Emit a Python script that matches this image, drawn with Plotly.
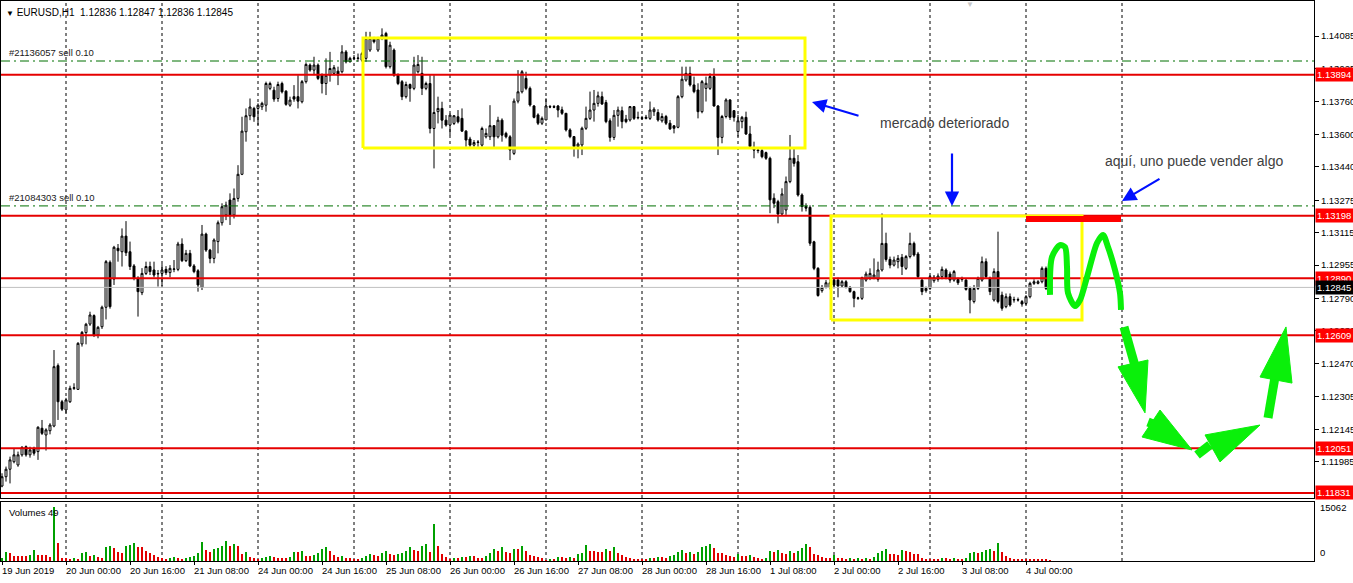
import plotly.graph_objects as go

# ---------------- data (EURUSD H1) ----------------
header_text = "EURUSD,H1\u00a0\u00a01.12836 1.12847 1.12836 1.12845"

opens = [
    1.11865, 1.11911, 1.11948, 1.11985, 1.11969, 1.12019, 1.12059, 1.12019, 1.12051, 1.12035,
    1.12150, 1.12117, 1.12138, 1.12161, 1.12459, 1.12281, 1.12240, 1.12281, 1.12347, 1.12342,
    1.12566, 1.12622, 1.12664, 1.12706, 1.12610, 1.12651, 1.12747, 1.12969, 1.12886, 1.13038,
    1.13021, 1.13098, 1.13021, 1.12951, 1.12890, 1.12819, 1.12914, 1.12948, 1.12931, 1.12914,
    1.12914, 1.12934, 1.12918, 1.12934, 1.12934, 1.13059, 1.12977, 1.13013, 1.12951, 1.12927,
    1.12845, 1.13108, 1.13029, 1.12988, 1.13071, 1.13164, 1.13202, 1.13276, 1.13202, 1.13284,
    1.13403, 1.13613, 1.13692, 1.13728, 1.13728, 1.13736, 1.13744, 1.13827, 1.13818, 1.13777,
    1.13851, 1.13813, 1.13744, 1.13786, 1.13786, 1.13761, 1.13860, 1.13942, 1.13917, 1.13942,
    1.13892, 1.13851, 1.13892, 1.13901, 1.13912, 1.13909, 1.14007, 1.13958, 1.13975, 1.13977,
    1.13966, 1.13975, 1.14016, 1.14073, 1.14016, 1.14073, 1.14098, 1.13934, 1.14016, 1.13892,
    1.13860, 1.13786, 1.13846, 1.13827, 1.13909, 1.13901, 1.13827, 1.13851, 1.13629, 1.13712,
    1.13728, 1.13670, 1.13646, 1.13654, 1.13687, 1.13679, 1.13616, 1.13577, 1.13547, 1.13560,
    1.13547, 1.13588, 1.13588, 1.13643, 1.13588, 1.13670, 1.13605, 1.13588, 1.13506, 1.13764,
    1.13810, 1.13876, 1.13827, 1.13740, 1.13696, 1.13655, 1.13671, 1.13737, 1.13737, 1.13740,
    1.13721, 1.13704, 1.13622, 1.13589, 1.13540, 1.13548, 1.13630, 1.13679, 1.13720, 1.13753,
    1.13786, 1.13757, 1.13667, 1.13585, 1.13694, 1.13717, 1.13675, 1.13671, 1.13737, 1.13684,
    1.13682, 1.13679, 1.13679, 1.13712, 1.13708, 1.13667, 1.13688, 1.13655, 1.13642, 1.13635,
    1.13786, 1.13868, 1.13901, 1.13844, 1.13819, 1.13712, 1.13827, 1.13827, 1.13885, 1.13740,
    1.13585, 1.13688, 1.13770, 1.13717, 1.13614, 1.13663, 1.13684, 1.13602, 1.13527, 1.13523,
    1.13520, 1.13510, 1.13482, 1.13285, 1.13268, 1.13207, 1.13227, 1.13367, 1.13482, 1.13465,
    1.13301, 1.13244, 1.13240, 1.13070, 1.12939, 1.12829, 1.12845, 1.12845, 1.12881, 1.12881,
    1.12852, 1.12873, 1.12845, 1.12824, 1.12791, 1.12791, 1.12881, 1.12890, 1.12890, 1.12885,
    1.12931, 1.13062, 1.12983, 1.12955, 1.12972, 1.12993, 1.12939, 1.12997, 1.13062, 1.13010,
    1.12881, 1.12829, 1.12840, 1.12878, 1.12885, 1.12898, 1.12931, 1.12911, 1.12881, 1.12885,
    1.12885, 1.12881, 1.12840, 1.12775, 1.12840, 1.12881, 1.12972, 1.12890, 1.12783, 1.12923,
    1.12807, 1.12750, 1.12799, 1.12783, 1.12785, 1.12775, 1.12766, 1.12799, 1.12865, 1.12865,
    1.12873, 1.12939, 1.12836,
]
highs = [
    1.11928, 1.11961, 1.12010, 1.12051, 1.12035, 1.12062, 1.12065, 1.12059, 1.12059, 1.12160,
    1.12191, 1.12150, 1.12175, 1.12536, 1.12470, 1.12290, 1.12300, 1.12360, 1.12372, 1.12575,
    1.12630, 1.12670, 1.12725, 1.12712, 1.12655, 1.12755, 1.12980, 1.12978, 1.13050, 1.13059,
    1.13136, 1.13172, 1.13071, 1.12960, 1.12900, 1.12940, 1.12972, 1.12972, 1.12972, 1.12931,
    1.12960, 1.12950, 1.12955, 1.12980, 1.13070, 1.13087, 1.13030, 1.13030, 1.12960, 1.12935,
    1.13153, 1.13115, 1.13035, 1.13087, 1.13175, 1.13260, 1.13268, 1.13309, 1.13333, 1.13448,
    1.13687, 1.13728, 1.13777, 1.13736, 1.13753, 1.13761, 1.13860, 1.13860, 1.13835, 1.13860,
    1.13860, 1.13818, 1.13786, 1.13843, 1.13892, 1.13868, 1.13955, 1.13950, 1.13983, 1.13950,
    1.13901, 1.13975, 1.14007, 1.13942, 1.13934, 1.14040, 1.14016, 1.13983, 1.13991, 1.13999,
    1.14007, 1.14106, 1.14106, 1.14081, 1.14081, 1.14123, 1.14106, 1.14057, 1.14024, 1.13901,
    1.13868, 1.13860, 1.13851, 1.13983, 1.13991, 1.13983, 1.13860, 1.13892, 1.13892, 1.13786,
    1.13761, 1.13695, 1.13703, 1.13695, 1.13720, 1.13728, 1.13621, 1.13588, 1.13572, 1.13572,
    1.13638, 1.13629, 1.13744, 1.13646, 1.13687, 1.13679, 1.13613, 1.13596, 1.13777, 1.13917,
    1.13917, 1.13909, 1.13836, 1.13745, 1.13704, 1.13688, 1.13778, 1.13745, 1.13745, 1.13745,
    1.13737, 1.13704, 1.13630, 1.13592, 1.13560, 1.13638, 1.13737, 1.13811, 1.13819, 1.13811,
    1.13811, 1.13770, 1.13679, 1.13720, 1.13737, 1.13737, 1.13696, 1.13740, 1.13740, 1.13712,
    1.13691, 1.13696, 1.13762, 1.13734, 1.13724, 1.13704, 1.13696, 1.13671, 1.13646, 1.13794,
    1.13934, 1.13934, 1.13934, 1.13885, 1.13852, 1.13868, 1.13885, 1.13901, 1.13926, 1.13745,
    1.13696, 1.13778, 1.13773, 1.13720, 1.13696, 1.13691, 1.13712, 1.13642, 1.13564, 1.13531,
    1.13527, 1.13515, 1.13490, 1.13309, 1.13277, 1.13334, 1.13392, 1.13597, 1.13531, 1.13498,
    1.13309, 1.13260, 1.13250, 1.13075, 1.12945, 1.12857, 1.12881, 1.12885, 1.12890, 1.12893,
    1.12881, 1.12881, 1.12852, 1.12829, 1.12799, 1.12898, 1.12923, 1.12939, 1.12988, 1.12972,
    1.13210, 1.13115, 1.12997, 1.12997, 1.13005, 1.13010, 1.13005, 1.13115, 1.13071, 1.13020,
    1.12890, 1.12849, 1.12906, 1.12906, 1.12914, 1.12948, 1.12939, 1.12923, 1.12931, 1.12893,
    1.12898, 1.12890, 1.12849, 1.12857, 1.12898, 1.12997, 1.12988, 1.12898, 1.12939, 1.13120,
    1.12824, 1.12815, 1.12815, 1.12799, 1.12795, 1.12783, 1.12807, 1.12873, 1.12885, 1.12881,
    1.12948, 1.12948, 1.12847,
]
lows = [
    1.11859, 1.11887, 1.11878, 1.11977, 1.11960, 1.12010, 1.12010, 1.12005, 1.12015, 1.11994,
    1.12117, 1.12040, 1.12120, 1.12155, 1.12191, 1.12235, 1.12224, 1.12275, 1.12339, 1.12339,
    1.12553, 1.12564, 1.12655, 1.12600, 1.12594, 1.12640, 1.12687, 1.12740, 1.12857, 1.12972,
    1.12948, 1.13000, 1.12931, 1.12880, 1.12701, 1.12807, 1.12906, 1.12906, 1.12895, 1.12849,
    1.12852, 1.12906, 1.12895, 1.12920, 1.12925, 1.12970, 1.12970, 1.12945, 1.12915, 1.12824,
    1.12832, 1.13020, 1.12964, 1.12964, 1.13013, 1.13150, 1.13177, 1.13153, 1.13185, 1.13268,
    1.13399, 1.13564, 1.13670, 1.13662, 1.13646, 1.13720, 1.13712, 1.13818, 1.13761, 1.13761,
    1.13802, 1.13741, 1.13736, 1.13761, 1.13728, 1.13753, 1.13851, 1.13909, 1.13892, 1.13868,
    1.13802, 1.13794, 1.13860, 1.13892, 1.13843, 1.13901, 1.13950, 1.13955, 1.13966, 1.13958,
    1.13958, 1.13958, 1.14007, 1.14049, 1.14007, 1.14065, 1.13925, 1.13925, 1.13884, 1.13843,
    1.13769, 1.13777, 1.13761, 1.13818, 1.13901, 1.13794, 1.13818, 1.13605, 1.13432, 1.13654,
    1.13629, 1.13638, 1.13596, 1.13646, 1.13654, 1.13613, 1.13539, 1.13539, 1.13539, 1.13539,
    1.13539, 1.13580, 1.13572, 1.13531, 1.13580, 1.13564, 1.13580, 1.13473, 1.13498, 1.13753,
    1.13802, 1.13818, 1.13737, 1.13679, 1.13646, 1.13646, 1.13671, 1.13729, 1.13729, 1.13684,
    1.13696, 1.13614, 1.13581, 1.13490, 1.13482, 1.13498, 1.13622, 1.13671, 1.13663, 1.13737,
    1.13745, 1.13655, 1.13564, 1.13572, 1.13638, 1.13630, 1.13655, 1.13663, 1.13671, 1.13674,
    1.13671, 1.13674, 1.13671, 1.13691, 1.13663, 1.13658, 1.13646, 1.13622, 1.13605, 1.13630,
    1.13778, 1.13860, 1.13836, 1.13803, 1.13679, 1.13704, 1.13762, 1.13819, 1.13737, 1.13498,
    1.13556, 1.13679, 1.13671, 1.13663, 1.13589, 1.13630, 1.13597, 1.13531, 1.13482, 1.13507,
    1.13482, 1.13474, 1.13211, 1.13236, 1.13161, 1.13203, 1.13203, 1.13359, 1.13441, 1.13293,
    1.13219, 1.13220, 1.13050, 1.12930, 1.12799, 1.12819, 1.12840, 1.12835, 1.12840, 1.12796,
    1.12845, 1.12840, 1.12819, 1.12747, 1.12783, 1.12783, 1.12873, 1.12881, 1.12885, 1.12873,
    1.12923, 1.12972, 1.12939, 1.12948, 1.12939, 1.12906, 1.12931, 1.12988, 1.12997, 1.12890,
    1.12807, 1.12819, 1.12832, 1.12868, 1.12873, 1.12885, 1.12885, 1.12868, 1.12873, 1.12857,
    1.12873, 1.12829, 1.12717, 1.12766, 1.12832, 1.12873, 1.12890, 1.12807, 1.12775, 1.12766,
    1.12730, 1.12742, 1.12750, 1.12770, 1.12775, 1.12750, 1.12758, 1.12791, 1.12857, 1.12860,
    1.12865, 1.12832, 1.12836,
]
closes = [
    1.11911, 1.11948, 1.11994, 1.12019, 1.12019, 1.12056, 1.12019, 1.12043, 1.12027, 1.12155,
    1.12125, 1.12142, 1.12166, 1.12454, 1.12281, 1.12244, 1.12290, 1.12347, 1.12350, 1.12569,
    1.12623, 1.12663, 1.12709, 1.12610, 1.12648, 1.12747, 1.12972, 1.12750, 1.13043, 1.13026,
    1.13098, 1.13016, 1.12948, 1.12890, 1.12824, 1.12914, 1.12948, 1.12923, 1.12906, 1.12912,
    1.12931, 1.12918, 1.12939, 1.12936, 1.13059, 1.12977, 1.13013, 1.12951, 1.12923, 1.12857,
    1.13108, 1.13029, 1.12988, 1.13079, 1.13164, 1.13243, 1.13251, 1.13202, 1.13284, 1.13403,
    1.13616, 1.13692, 1.13735, 1.13687, 1.13744, 1.13753, 1.13851, 1.13851, 1.13774, 1.13846,
    1.13810, 1.13748, 1.13769, 1.13774, 1.13764, 1.13860, 1.13945, 1.13917, 1.13942, 1.13876,
    1.13851, 1.13892, 1.13925, 1.13929, 1.13892, 1.14007, 1.13958, 1.13975, 1.13977, 1.13975,
    1.13999, 1.14073, 1.14073, 1.14057, 1.14073, 1.14090, 1.13934, 1.14040, 1.13892, 1.13851,
    1.13786, 1.13846, 1.13827, 1.13942, 1.13945, 1.13827, 1.13851, 1.13629, 1.13708, 1.13728,
    1.13670, 1.13646, 1.13695, 1.13692, 1.13662, 1.13616, 1.13572, 1.13547, 1.13560, 1.13562,
    1.13629, 1.13605, 1.13643, 1.13588, 1.13670, 1.13596, 1.13588, 1.13523, 1.13764, 1.13810,
    1.13909, 1.13827, 1.13745, 1.13684, 1.13655, 1.13679, 1.13740, 1.13735, 1.13734, 1.13720,
    1.13704, 1.13622, 1.13589, 1.13540, 1.13552, 1.13630, 1.13679, 1.13720, 1.13753, 1.13790,
    1.13750, 1.13663, 1.13585, 1.13694, 1.13720, 1.13663, 1.13663, 1.13737, 1.13679, 1.13682,
    1.13679, 1.13684, 1.13720, 1.13724, 1.13671, 1.13688, 1.13655, 1.13627, 1.13630, 1.13786,
    1.13872, 1.13901, 1.13844, 1.13811, 1.13712, 1.13860, 1.13852, 1.13885, 1.13740, 1.13585,
    1.13688, 1.13770, 1.13684, 1.13684, 1.13667, 1.13684, 1.13602, 1.13540, 1.13523, 1.13520,
    1.13490, 1.13482, 1.13277, 1.13260, 1.13207, 1.13306, 1.13367, 1.13482, 1.13457, 1.13301,
    1.13244, 1.13236, 1.13063, 1.12939, 1.12805, 1.12845, 1.12868, 1.12868, 1.12857, 1.12852,
    1.12873, 1.12845, 1.12824, 1.12791, 1.12793, 1.12893, 1.12911, 1.12914, 1.12906, 1.12931,
    1.13062, 1.12983, 1.12955, 1.12980, 1.12988, 1.12948, 1.12997, 1.13062, 1.13005, 1.12898,
    1.12824, 1.12840, 1.12898, 1.12895, 1.12901, 1.12934, 1.12895, 1.12881, 1.12923, 1.12868,
    1.12887, 1.12835, 1.12783, 1.12840, 1.12890, 1.12972, 1.12898, 1.12824, 1.12923, 1.12775,
    1.12742, 1.12799, 1.12758, 1.12785, 1.12783, 1.12763, 1.12799, 1.12865, 1.12873, 1.12873,
    1.12939, 1.12840, 1.12845,
]
volumes = [
    # 19 Jun 08:00-23:00
    850, 2560, 2270, 1420, 1420, 1420, 1390, 1700, 3120, 1700, 1650, 1560, 1130, 15062, 5100, 850,
    # 20 Jun
    850, 570, 850, 600, 2270, 2560, 1420, 1700, 1140, 850, 3980, 4260, 3690, 2560, 2270, 4260,
    4540, 5110, 3980, 3980, 2840, 2270, 1700, 1140,
    # 21 Jun
    850, 570, 850, 1140, 850, 570, 850, 1140, 1420, 2270, 5400, 3120, 2560, 3410, 3690, 4260,
    5680, 4260, 4830, 4260, 1990, 2560, 1140, 850,
    # 24 Jun
    570, 850, 1140, 1420, 1140, 850, 850, 850, 1140, 2560, 2560, 2840, 1420, 1420, 1700, 2270,
    3410, 3980, 2840, 1700, 1140, 1420, 850, 850,
    # 25 Jun
    570, 570, 850, 1420, 1990, 1700, 1420, 2270, 2840, 1990, 1700, 1990, 2270, 2840, 3980, 3120,
    2840, 4260, 4830, 2560, 10220, 4260, 1990, 1140,
    # 26 Jun
    570, 850, 850, 1140, 1140, 1420, 1420, 850, 850, 1420, 2270, 3410, 2840, 3980, 2560, 2270,
    3410, 3410, 4260, 2840, 1700, 1420, 1140, 850,
    # 27 Jun
    280, 570, 570, 1140, 1140, 850, 1140, 850, 1990, 2270, 4540, 2840, 2840, 2560, 2560, 3410,
    2840, 3980, 2270, 1700, 1140, 850, 570, 570,
    # 28 Jun
    570, 570, 850, 850, 1140, 1140, 850, 1420, 1700, 2560, 3120, 2270, 2560, 1990, 2560, 3980,
    4260, 4830, 3690, 2270, 2270, 1700, 1420, 1140,
    # 1 Jul
    1990, 1420, 1420, 1700, 1140, 850, 570, 850, 2840, 2560, 3120, 2270, 1990, 2840, 2270, 2840,
    3690, 4830, 3980, 1990, 1700, 1140, 850, 850,
    # 2 Jul
    1700, 850, 850, 570, 850, 570, 850, 570, 850, 570, 1140, 2270, 2840, 3410, 1990, 1990,
    1700, 3120, 2840, 2560, 1990, 1990, 850, 570,
    # 3 Jul
    570, 570, 570, 850, 850, 570, 850, 570, 570, 850, 2270, 2560, 2270, 2560, 3120, 3410,
    2840, 5110, 2560, 1420, 850, 570, 570, 570,
    # 4 Jul
    570, 570, 570, 570, 570, 570, 49,
]

date_labels = ["19 Jun 2019", "20 Jun 00:00", "20 Jun 16:00", "21 Jun 08:00", "24 Jun 00:00",
               "24 Jun 16:00", "25 Jun 08:00", "26 Jun 00:00", "26 Jun 16:00", "27 Jun 08:00",
               "28 Jun 00:00", "28 Jun 16:00", "1 Jul 08:00", "2 Jul 00:00", "2 Jul 16:00",
               "3 Jul 08:00", "4 Jul 00:00"]
date_label_bars = [0, 16, 32, 48, 64, 80, 96, 112, 128, 144, 160, 176, 192, 208, 224, 240, 256]
grid_bars = [16, 40, 64, 88, 112, 136, 160, 184, 208, 232, 256, 280]

price_ticks = [1.14085, 1.13925, 1.13760, 1.13600, 1.13440, 1.13275, 1.13115, 1.12955,
               1.12790, 1.12630, 1.12470, 1.12305, 1.12145, 1.11985]
level_prices = [1.13894, 1.13198, 1.12890, 1.12609, 1.12051, 1.11831]
order_prices = [1.13962, 1.13247]
order_texts = ["#21136057 sell 0.10", "#21084303 sell 0.10"]
bid_price = 1.12845
vol_max_label = 15062

# drawings (bar index, price)
box1_x = [90.25, 200.75]
box1_y = [1.13533, 1.14075]
box2_x = [207.25, 270.0]
box2_y = [1.12684, 1.13197]
redbar_x = [256.0, 279.75]
redbar_y = [1.13182, 1.13182]
scribble_x = [262, 262.5, 264.5, 265.75, 266.25, 266.5, 268.25, 269.5, 271.25, 273.75,
              275.25, 276.5, 278.25, 279.5, 279.75]
scribble_y = [1.12808, 1.12995, 1.13054, 1.13044, 1.12946, 1.12817, 1.12753, 1.12783, 1.12896,
              1.13064, 1.13104, 1.13044, 1.12931, 1.12817, 1.12734]
shaft_x = [[280.5, 283.75], [286.5, 291.5], [298.75, 302.0], [316.5, 318.25]]
shaft_y = [[1.12650, 1.12423], [1.12181, 1.12142], [1.12018, 1.12068], [1.12201, 1.12403]]
head_x = [[279.0, 286.5, 285.75], [285.0, 289.5, 297.5], [300.75, 314.5, 304.5], [314.5, 321.0, 322.5]]
head_y = [[1.12453, 1.12487, 1.12226], [1.12107, 1.12240, 1.12043], [1.12117, 1.12166, 1.11984],
          [1.12403, 1.12650, 1.12373]]
blue_arrows = [  # (tail_x, tail_y, head_x, head_y)
    (214.5, 1.13690, 202.5, 1.13760),
    (237.5, 1.13513, 237.5, 1.13247),
    (289.75, 1.13385, 280.0, 1.13271),
]
note1 = ("mercado deteriorado", 219.0, 1.13656)
note2 = ("aquí, uno puede vender algo", 275.25, 1.13469)

# ---------------- figure ----------------
n = min(len(opens), len(highs), len(lows), len(closes), len(volumes))
bars = list(range(n))
XR = [-0.25, 328.0]
FONT = "Liberation Sans"
AXF = 9.5
GREEN_DRAW = "#0af00a"
LINE_RED = "#e60000"

fig = go.Figure()
fig.add_trace(go.Candlestick(
    x=bars, open=opens[:n], high=highs[:n], low=lows[:n], close=closes[:n],
    increasing=dict(line=dict(color="black", width=1), fillcolor="white"),
    decreasing=dict(line=dict(color="black", width=1), fillcolor="black"),
    whiskerwidth=0, hoverinfo="skip", showlegend=False, xaxis="x", yaxis="y"))

vol_colors = []
for k in range(n):
    if k == 0 or volumes[k] > volumes[k - 1]:
        vol_colors.append("#00a000")
    else:
        vol_colors.append("#e00000")
fig.add_trace(go.Bar(x=bars, y=volumes[:n], marker=dict(color=vol_colors, line=dict(width=0)),
                     width=0.3, hoverinfo="skip", showlegend=False, xaxis="x2", yaxis="y2"))

# bid line
fig.add_trace(go.Scatter(x=XR, y=[bid_price, bid_price], mode="lines",
                         line=dict(color="#c0c0c0", width=1), hoverinfo="skip", showlegend=False))
# order lines
for p in order_prices:
    fig.add_trace(go.Scatter(x=XR, y=[p, p], mode="lines",
                             line=dict(color="#007000", width=1, dash="9px,4px,2px,4px"),
                             hoverinfo="skip", showlegend=False))
# level lines
for p in level_prices:
    fig.add_trace(go.Scatter(x=XR, y=[p, p], mode="lines",
                             line=dict(color=LINE_RED, width=2), hoverinfo="skip", showlegend=False))
# yellow boxes
for bx, by in ((box1_x, box1_y), (box2_x, box2_y)):
    fig.add_trace(go.Scatter(x=[bx[0], bx[1], bx[1], bx[0], bx[0]],
                             y=[by[0], by[0], by[1], by[1], by[0]], mode="lines",
                             line=dict(color="#ffff00", width=3), hoverinfo="skip", showlegend=False))
# red thick bar
fig.add_trace(go.Scatter(x=redbar_x, y=redbar_y, mode="lines", line=dict(color="#ff0000", width=6),
                         hoverinfo="skip", showlegend=False))
# green scribble
fig.add_trace(go.Scatter(x=scribble_x, y=scribble_y, mode="lines",
                         line=dict(color=GREEN_DRAW, width=6, shape="spline", smoothing=0.8),
                         hoverinfo="skip", showlegend=False))
for sx, sy in zip(shaft_x, shaft_y):
    fig.add_trace(go.Scatter(x=sx, y=sy, mode="lines", line=dict(color=GREEN_DRAW, width=9),
                             hoverinfo="skip", showlegend=False))
for hx, hy in zip(head_x, head_y):
    fig.add_trace(go.Scatter(x=hx + [hx[0]], y=hy + [hy[0]], mode="lines", fill="toself",
                             fillcolor=GREEN_DRAW, line=dict(color=GREEN_DRAW, width=1),
                             hoverinfo="skip", showlegend=False))

shapes = []
for g in grid_bars:
    for xr, yr in (("x", "y domain"), ("x2", "y2 domain")):
        shapes.append(dict(type="line", xref=xr, yref=yr, x0=g, x1=g, y0=0, y1=1,
                           line=dict(color="black", width=1, dash="3px,3px"), layer="below"))

ann = []
ann.append(dict(xref="paper", yref="paper", x=0, y=1, xshift=3, yshift=-4, xanchor="left",
                yanchor="top", showarrow=False,
                text="<span style='font-size:8px'>▼</span> " + header_text,
                font=dict(family=FONT, size=10, color="black")))
ann.append(dict(xref="x", yref="paper", x=242, y=1, yshift=3, xanchor="center", yanchor="top",
                showarrow=False, text="▼", font=dict(family=FONT, size=8, color="#c8c8c8")))
for p, t in zip(order_prices, order_texts):
    ann.append(dict(xref="paper", yref="y", x=0, y=p, xshift=6, yshift=1, xanchor="left",
                    yanchor="bottom", showarrow=False, text=t,
                    font=dict(family=FONT, size=9.5, color="#202020")))
for p in level_prices:
    ann.append(dict(xref="paper", yref="y", x=1, y=p, xshift=1, xanchor="left", yanchor="middle",
                    showarrow=False, text=f"{p:.5f}\u00a0", bgcolor="#ff0000", borderpad=1,
                    font=dict(family=FONT, size=AXF, color="white")))
ann.append(dict(xref="paper", yref="y", x=1, y=bid_price, xshift=1, xanchor="left",
                yanchor="middle", showarrow=False, text=f"{bid_price:.5f}\u00a0", bgcolor="black",
                borderpad=1, font=dict(family=FONT, size=AXF, color="white")))
ann.append(dict(xref="paper", yref="y2", x=1, y=vol_max_label, xshift=4, xanchor="left",
                yanchor="middle", showarrow=False, text=str(vol_max_label),
                font=dict(family=FONT, size=AXF, color="black")))
ann.append(dict(xref="paper", yref="y2", x=1, y=0, xshift=4, yshift=8, xanchor="left",
                yanchor="middle", showarrow=False, text="0",
                font=dict(family=FONT, size=AXF, color="black")))
ann.append(dict(xref="paper", yref="y2 domain", x=0, y=1, xshift=6, yshift=-3, xanchor="left",
                yanchor="top", showarrow=False, text=f"Volumes {volumes[n - 1]}",
                font=dict(family=FONT, size=9.5, color="black")))
for b, t in zip(date_label_bars, date_labels):
    ann.append(dict(xref="x2", yref="paper", x=b, y=0, xshift=-2, yshift=-2, xanchor="left",
                    yanchor="top", showarrow=False, text=t,
                    font=dict(family=FONT, size=9.5, color="black")))
for t, xx, yy in (note1, note2):
    ann.append(dict(xref="x", yref="y", x=xx, y=yy, xanchor="left", yanchor="middle",
                    showarrow=False, text=t, font=dict(family=FONT, size=14, color="#404040")))
for tx, ty, hx, hy in blue_arrows:
    ann.append(dict(xref="x", yref="y", x=hx, y=hy, axref="x", ayref="y", ax=tx, ay=ty,
                    showarrow=True, arrowhead=2, arrowsize=1.3, arrowwidth=2.2,
                    arrowcolor="#0010ff", text=""))

fig.update_layout(
    width=1353, height=583, autosize=False,
    margin=dict(l=1, r=39, t=1, b=22, autoexpand=False),
    paper_bgcolor="white", plot_bgcolor="white",
    hovermode=False, showlegend=False,
    shapes=shapes, annotations=ann,
    font=dict(family=FONT, size=10, color="black"),
    xaxis=dict(domain=[0, 1], range=XR, anchor="y", showticklabels=False, showgrid=False,
               zeroline=False, showline=True, mirror=True, linecolor="black", linewidth=1,
               rangeslider=dict(visible=False), fixedrange=True, automargin=False),
    yaxis=dict(domain=[0.1125, 1], range=[1.11806, 1.14258], side="right", anchor="x",
               tickmode="array", tickvals=price_ticks, ticktext=[f"{v:.5f}" for v in price_ticks],
               ticks="outside", ticklen=4, tickcolor="black", showgrid=False, zeroline=False,
               showline=True, mirror=True, linecolor="black", linewidth=1, automargin=False,
               tickfont=dict(family=FONT, size=AXF, color="black")),
    xaxis2=dict(domain=[0, 1], range=XR, anchor="y2", tickmode="array", tickvals=date_label_bars,
                ticks="outside", ticklen=3, tickcolor="black", showticklabels=False,
                showgrid=False, zeroline=False, showline=True, mirror=True, linecolor="black",
                linewidth=1, automargin=False),
    yaxis2=dict(domain=[0, 0.1054], range=[0, 16500], side="right", anchor="x2",
                showticklabels=False, ticks="", showgrid=False, zeroline=False, showline=True,
                mirror=True, linecolor="black", linewidth=1, automargin=False),
    bargap=0,
)

fig.write_html("out.html", config={"displayModeBar": False},
               post_script="document.body.style.margin='0px';document.body.style.overflow='hidden';")
